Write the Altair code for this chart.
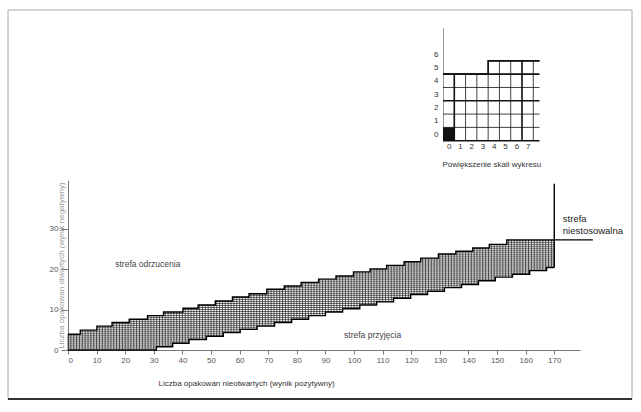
import altair as alt
import pandas as pd
import numpy as np

# ---------------- data ----------------
# upper (rejection) staircase: x where each step begins, and its level
upper_x = [0, 4.3, 10.1, 15.4, 21.4, 27.8, 33.4, 40.2, 45.5, 51.5, 57.5, 63.3, 69.5, 75.6,
           81.5, 87.6, 93.7, 99.8, 105.6, 111.4, 117.5, 123.3, 129.5, 135.6, 141.5, 147.3, 153.4]
upper_y = [3.9, 4.9, 5.9, 6.8, 7.6, 8.5, 9.4, 10.3, 11.1, 12.1, 13.1, 13.9, 15.0, 15.8,
           16.7, 17.5, 18.3, 19.3, 20.0, 20.9, 21.8, 22.7, 23.7, 24.4, 25.2, 26.1, 27.2]
# lower (acceptance) staircase
lower_x = [0, 30.9, 36.6, 42.3, 48.4, 54.3, 60.2, 66.1, 72.2, 78.2, 84.1, 90.0, 96.0,
           102.0, 107.9, 113.8, 119.8, 125.7, 131.6, 137.6, 143.5, 149.4, 155.4, 161.4, 167.3]
lower_y = [0, 0.8, 1.65, 2.6, 3.4, 4.3, 5.1, 5.9, 6.8, 7.6, 8.5, 9.4, 10.2,
           11.1, 11.9, 12.8, 13.7, 14.5, 15.4, 16.2, 17.1, 18.0, 18.7, 19.6, 20.4]
n_max = 170          # truncation of the plan
upper_ext_end = 183.5
cap_top = 41.1
x_ticks = list(range(0, 171, 10))
y_ticks = [0, 10, 20, 30]

# annotations
ann_text = ["strefa odrzucenia", "strefa przyjęcia"]
ann_x = [27.9, 106.5]
ann_y = [21.2, 3.7]
na_text = ["strefa", "niestosowalna"]
na_x = [173, 173]
na_y = [32.3, 29.5]

x_title = "Liczba opakowan nieotwartych (wynik pozytywny)"
y_title = "Liczba opakowan otwartych (wynik negatywny)"

# inset ("Powiększenie skali wykresu")
inset_cols = [0, 1, 2, 3, 4, 5, 6, 7]
inset_rows = [0, 1, 2, 3, 4, 5, 6]
inset_col_height = [5, 5, 5, 5, 6, 6, 6, 6]
inset_x_end = 8.55
inset_thick_h = [0, 3, 5]
inset_thick_v = [1, 7]
inset_title = "Powiększenie skali wykresu"

FONT = "Liberation Sans"

# ---------------- derived tables ----------------
ux = np.array(upper_x); uy = np.array(upper_y)
lx = np.array(lower_x); ly = np.array(lower_y)

def step(xs, ys, v):
    i = np.searchsorted(xs, v, side="right") - 1
    return ys[i]

vert = []
for xi in range(0, n_max + 1):
    lo, hi = step(lx, ly, xi), step(ux, uy, xi)
    if hi > lo:
        vert.append({"x": xi, "y": lo, "y2": hi})
vert_df = pd.DataFrame(vert)

horiz = []
for L in np.arange(0.5, uy[-1], 0.5):
    xs_ = ux[np.argmax(uy > L)]
    idx = np.where(ly >= L)[0]
    xe = lx[idx[0]] if len(idx) else n_max
    if xe > xs_:
        horiz.append({"y": L, "x": xs_, "x2": xe})
horiz_df = pd.DataFrame(horiz)

upper_df = pd.DataFrame({"x": upper_x + [upper_ext_end], "y": upper_y + [upper_y[-1]]})
lower_df = pd.DataFrame({"x": lower_x + [n_max], "y": lower_y + [lower_y[-1]]})
cap_df = pd.DataFrame({"x": [n_max], "y": [lower_y[-1]], "y2": [cap_top]})
ann_df = pd.DataFrame({"t": ann_text, "x": ann_x, "y": ann_y})
na_df = pd.DataFrame({"t": na_text, "x": na_x, "y": na_y})

# ---------------- main scales / axes ----------------
xs = alt.Scale(domain=[0, 179], nice=False, zero=False)
ys = alt.Scale(domain=[0, 42], nice=False, zero=False)
x_axis = alt.Axis(values=x_ticks, title=x_title, titleX=178, titleY=33, titleAlign="center",
                  titleBaseline="middle", titleFontSize=8, titleFontWeight="normal",
                  titleColor="#333", titleFont=FONT, labelFont=FONT, labelFontSize=8,
                  labelColor="#555", tickSize=4, tickColor="#777", domainColor="#777",
                  grid=False, labelPadding=2)
y_axis = alt.Axis(values=y_ticks, title=y_title, titleX=-7, titleY=85, titleAngle=270,
                  titleAlign="center", titleBaseline="middle", titleFontSize=8,
                  titleFontWeight="normal", titleColor="#999", titleFont=FONT,
                  labelFont=FONT, labelFontSize=8, labelColor="#555", tickSize=7,
                  tickColor="#777", domainColor="#777", grid=False, labelPadding=3)

def X(f):
    return alt.X(f, type="quantitative", scale=xs, axis=x_axis)

def Y(f):
    return alt.Y(f, type="quantitative", scale=ys, axis=y_axis)

frame = alt.Chart(pd.DataFrame({"d": [0]})).mark_rect(
    filled=False, stroke="#aaa", strokeWidth=1).encode(
    x=alt.value(-60), x2=alt.value(564), y=alt.value(-170), y2=alt.value(219))
frame_bottom = alt.Chart(pd.DataFrame({"d": [0]})).mark_rule(
    color="#333", strokeWidth=2).encode(x=alt.value(-60), x2=alt.value(564), y=alt.value(219))

hatch_v = alt.Chart(vert_df).mark_rule(color="#000", strokeWidth=0.6).encode(
    x=X("x"), y=Y("y"), y2="y2")
hatch_h = alt.Chart(horiz_df).mark_rule(color="#000", strokeWidth=0.6).encode(
    x=X("x"), x2="x2", y=Y("y"))
upper_line = alt.Chart(upper_df).mark_line(color="#000", strokeWidth=1.4,
                                           interpolate="step-after").encode(x=X("x"), y=Y("y"))
lower_line = alt.Chart(lower_df).mark_line(color="#000", strokeWidth=1.4,
                                           interpolate="step-after").encode(x=X("x"), y=Y("y"))
cap = alt.Chart(cap_df).mark_rule(color="#000", strokeWidth=1.4).encode(
    x=X("x"), y=Y("y"), y2="y2")
ann = alt.Chart(ann_df).mark_text(font=FONT, fontSize=8.5, color="#444").encode(
    x=X("x"), y=Y("y"), text="t:N")
na = alt.Chart(na_df).mark_text(font=FONT, fontSize=9.5, color="#222", align="left").encode(
    x=X("x"), y=Y("y"), text="t:N")

main = alt.layer(frame, frame_bottom, hatch_v, hatch_h, upper_line, lower_line, cap, ann, na)

# ---------------- inset ----------------
ixs = alt.Scale(domain=[0, inset_x_end], range=[375, 471.5], nice=False, zero=False)
iys = alt.Scale(domain=[0, 8.5], range=[-39.3, -152.4], nice=False, zero=False)
ix_axis = alt.Axis(orient="bottom", offset=-209.3, values=[c + 0.5 for c in inset_cols],
                   labelExpr="'' + (datum.value - 0.5)", domain=False, ticks=False,
                   grid=False, labelFont=FONT, labelFontSize=8, labelColor="#333",
                   labelPadding=2, title=inset_title, titleFont=FONT, titleFontSize=8,
                   titleFontWeight="normal", titleColor="#333", titleY=24,
                   titleBaseline="middle")
iy_axis = alt.Axis(orient="left", offset=-375, values=[r + 0.5 for r in inset_rows],
                   labelExpr="'' + (datum.value - 0.5)", domain=True, domainColor="#999",
                   ticks=False, grid=False, labelFont=FONT, labelFontSize=8,
                   labelColor="#333", labelPadding=5, title=None)

def IX(f):
    return alt.X(f, type="quantitative", scale=ixs, axis=ix_axis)

def IY(f):
    return alt.Y(f, type="quantitative", scale=iys, axis=iy_axis)

ih = []
for r in inset_rows:
    cols_ok = [c for c, h in zip(inset_cols, inset_col_height) if h >= r]
    if cols_ok:
        ih.append({"y": r, "x": min(cols_ok), "x2": inset_x_end,
                   "w": 1.6 if r in inset_thick_h else 0.8})
ih_df = pd.DataFrame(ih)
iv = []
for c in inset_cols[1:] + [inset_cols[-1] + 1]:
    h = max(inset_col_height[min(c, len(inset_cols) - 1)], inset_col_height[c - 1])
    iv.append({"x": c, "y": 0, "y2": h, "w": 1.6 if c in inset_thick_v else 0.8})
iv_df = pd.DataFrame(iv)
ib = []
for c, h in zip(inset_cols, inset_col_height):
    ib.append({"x": c, "y": h})
ib.append({"x": inset_x_end, "y": inset_col_height[-1]})
ib_df = pd.DataFrame(ib)
cell_df = pd.DataFrame({"x": [0], "x2": [1], "y": [0], "y2": [1]})

i_h = alt.Chart(ih_df).mark_rule(color="#111").encode(
    x=IX("x"), x2="x2", y=IY("y"), strokeWidth=alt.StrokeWidth("w:Q", scale=None))
i_v = alt.Chart(iv_df).mark_rule(color="#111").encode(
    x=IX("x"), y=IY("y"), y2="y2", strokeWidth=alt.StrokeWidth("w:Q", scale=None))
i_b = alt.Chart(ib_df).mark_line(color="#111", strokeWidth=1.6,
                                 interpolate="step-after").encode(x=IX("x"), y=IY("y"))
i_cell = alt.Chart(cell_df).mark_rect(color="#111").encode(
    x=IX("x"), x2="x2", y=IY("y"), y2="y2")

inset = alt.layer(i_cell, i_h, i_v, i_b)

chart = alt.layer(main, inset).resolve_scale(x="independent", y="independent").properties(
    width=512, height=170,
    autosize=alt.AutoSizeParams(type="none"),
    padding={"left": 68, "top": 180, "right": 61, "bottom": 62},
    background="white",
).configure_view(stroke=None)

chart.save("out.html", embed_options={"renderer": "svg", "actions": False})
